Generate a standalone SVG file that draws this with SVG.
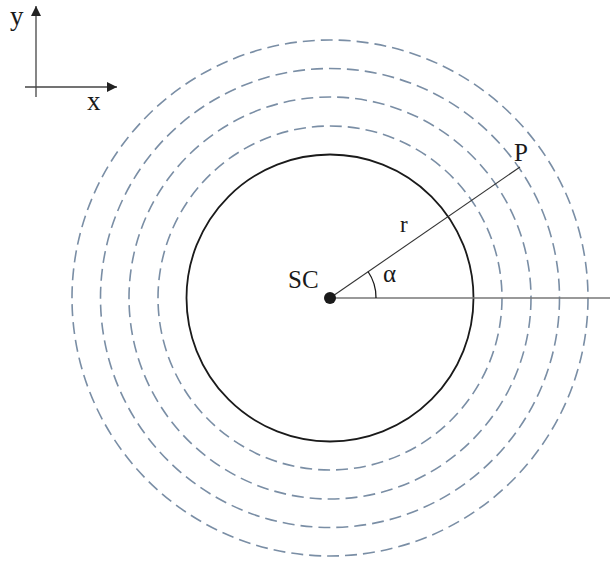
<svg xmlns="http://www.w3.org/2000/svg" width="610" height="561" viewBox="0 0 610 561">
<style>
.t{font-family:"Liberation Serif","Times New Roman",serif;fill:#1a1a1a}
.dash{fill:none;stroke:#7a8ea5;stroke-width:1.6;stroke-dasharray:12 6}
.ax{stroke:#444;stroke-width:1.3;fill:none}
</style>
<defs>
<marker id="ah" viewBox="0 0 10 10" refX="10" refY="5" markerWidth="10" markerHeight="10" markerUnits="userSpaceOnUse" orient="auto">
<path d="M0,0 L10,5 L0,10 z" fill="#222"/>
</marker>
</defs>
<rect width="610" height="561" fill="#fff"/>
<g id="axes">
<line class="ax" x1="36" y1="97" x2="36" y2="6" marker-end="url(#ah)"/>
<line class="ax" x1="25" y1="87" x2="117" y2="87" marker-end="url(#ah)"/>
<text class="t" x="10" y="25" font-size="27">y</text>
<text class="t" x="87" y="110" font-size="27">x</text>
</g>
<g id="orbits">
<circle class="dash" cx="330" cy="298" r="172"/>
<circle class="dash" cx="330" cy="298" r="201"/>
<circle class="dash" cx="330" cy="298" r="229.5"/>
<circle class="dash" cx="330" cy="298" r="258"/>
</g>
<g id="body">
<circle cx="330" cy="298" r="143.5" fill="none" stroke="#1a1a1a" stroke-width="1.8"/>
</g>
<g id="connectors">
<line x1="330" y1="298" x2="610" y2="298" stroke="#777" stroke-width="1.5"/>
<line x1="330" y1="298" x2="520" y2="167" stroke="#333" stroke-width="1.1"/>
<path d="M368,271.5 A46,46 0 0 1 376,298" fill="none" stroke="#1a1a1a" stroke-width="1.3"/>
</g>
<g id="SC">
<circle cx="330" cy="298" r="6" fill="#1a1a1a"/>
<text class="t" x="288" y="288" font-size="25">SC</text>
</g>
<g id="P">
<text class="t" x="514" y="161" font-size="25">P</text>
</g>
<text class="t" x="400" y="232" font-size="23">r</text>
<text class="t" x="383" y="282" font-size="25">α</text>
</svg>
